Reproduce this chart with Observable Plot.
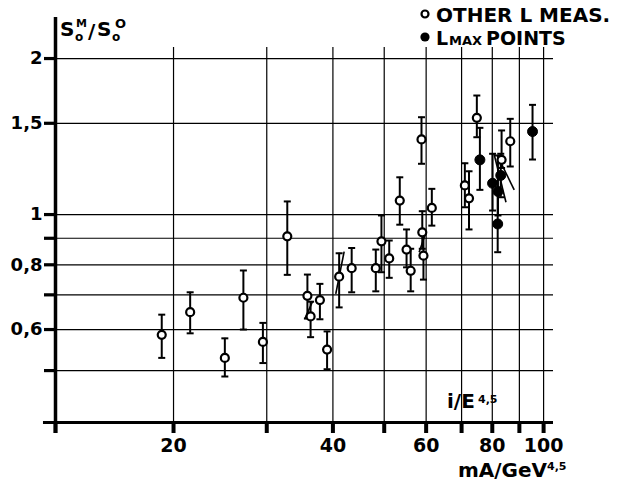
<!DOCTYPE html>
<html>
<head>
<meta charset="utf-8">
<script src="https://cdn.jsdelivr.net/npm/d3@7"></script>
<script src="https://cdn.jsdelivr.net/npm/@observablehq/plot@0.6"></script>
<style>
  html, body { margin: 0; padding: 0; background: #fff; }
  #chart { width: 617px; height: 483px; }
</style>
</head>
<body>
<div id="chart"></div>
<script>
// Open circles: other L measurements (x in mA/GeV^4.5, ratio with error range)
const otherX  = [19.0, 21.5, 25.0, 27.1, 29.5, 32.8, 35.8, 36.3, 37.8, 39.0, 41.1, 43.4, 48.2, 49.4, 51.1, 53.5, 55.1, 56.1, 58.8, 59.0, 59.3, 61.5, 71.0, 72.3, 74.8, 83.3, 86.5];
const otherY  = [0.586, 0.648, 0.529, 0.691, 0.568, 0.908, 0.697, 0.636, 0.684, 0.549, 0.759, 0.788, 0.788, 0.888, 0.823, 1.064, 0.856, 0.779, 1.396, 0.924, 0.833, 1.030, 1.138, 1.075, 1.537, 1.275, 1.385];
const otherLo = [0.529, 0.590, 0.487, 0.600, 0.517, 0.765, 0.630, 0.580, 0.628, 0.503, 0.662, 0.708, 0.711, 0.774, 0.755, 0.956, 0.791, 0.711, 1.253, 0.859, 0.749, 0.952, 1.033, 0.936, 1.410, 1.230, 1.238];
const otherHi = [0.641, 0.708, 0.577, 0.780, 0.618, 1.060, 0.766, 0.679, 0.735, 0.595, 0.842, 0.862, 0.856, 0.996, 0.891, 1.180, 0.936, 0.859, 1.541, 1.015, 0.919, 1.121, 1.256, 1.212, 1.697, 1.453, 1.530];

// Filled circles: L_max points
const lmaxX  = [75.8, 80.1, 82.0, 83.0, 81.9, 95.3];
const lmaxY  = [1.275, 1.149, 1.108, 1.190, 0.959, 1.446];
const lmaxLo = [1.116, 1.018, 0.996, 1.080, 0.846, 1.277];
const lmaxHi = [1.470, 1.310, 1.300, 1.310, 1.104, 1.628];

// Slanted error-bar strokes joining neighbouring measurements
const slantX1 = [35.4, 40.5, 58.2, 80.6, 82.3];
const slantY1 = [0.629, 0.703, 0.846, 1.310, 1.283];
const slantX2 = [36.6, 42.0, 59.8, 84.9, 88.0];
const slantY2 = [0.679, 0.848, 0.918, 1.056, 1.116];

// Axis ticks and labels
const xTicks = [11.97, 20, 30, 40, 50, 60, 70, 80, 90, 100];
const xTickLabels = ["", "20", "", "40", "", "60", "", "80", "", "100"];
const yTicks = [0.5, 0.6, 0.7, 0.8, 0.9, 1, 1.5, 2];
const yTickLabels = ["", "0,6", "", "0,8", "", "1", "1,5", "2"];

const other = otherX.map((x, i) => ({x, y: otherY[i], lo: otherLo[i], hi: otherHi[i]}));
const lmax = lmaxX.map((x, i) => ({x, y: lmaxY[i], lo: lmaxLo[i], hi: lmaxHi[i]}));
const slants = slantX1.map((x1, i) => ({x1, y1: slantY1[i], x2: slantX2[i], y2: slantY2[i]}));
const all = other.concat(lmax);

// horizontal bar symbol for error-bar caps
const capSymbol = {
  draw(context, size) {
    const w = Math.sqrt(size / Math.PI);
    context.moveTo(-w, 0);
    context.lineTo(w, 0);
  }
};

const FONT = "DejaVu Sans";
const xMin = 11.97, xMax = 104.4, yMin = 0.397, yMax = 2.4;

const plot = Plot.plot({
  width: 617,
  height: 483,
  marginLeft: 55,
  marginRight: 64,
  marginTop: 17,
  marginBottom: 61,
  style: {fontFamily: FONT, background: "white", color: "black", overflow: "visible"},
  x: {type: "log", domain: [xMin, xMax], label: null},
  y: {type: "log", domain: [yMin, yMax], label: null},
  marks: [
    // grid
    Plot.ruleY(yTicks, {x1: xMin, x2: xMax, stroke: "black", strokeWidth: 1.2}),
    Plot.ruleX(xTicks.slice(1), {y1: yMin, y2: 2.1, stroke: "black", strokeWidth: 1.2}),
    // axes
    Plot.axisY({
      ticks: yTicks,
      tickFormat: d => yTickLabels[yTicks.indexOf(d)],
      tickSize: 11,
      tickPadding: 2,
      strokeWidth: 3.2,
      fontSize: 18,
      fontWeight: "bold",
      label: null
    }),
    Plot.axisX({
      ticks: xTicks,
      tickFormat: d => xTickLabels[xTicks.indexOf(d)],
      tickSize: 11,
      tickPadding: 5,
      strokeWidth: 4,
      fontSize: 19,
      fontWeight: "bold",
      label: null
    }),
    Plot.ruleX([xMin], {y1: 0.378, y2: yMax, stroke: "black", strokeWidth: 3.5}),
    Plot.ruleY([yMin], {x1: 11.36, x2: xMax, stroke: "black", strokeWidth: 3.2}),
    // error bars
    Plot.link(slants, {x1: "x1", y1: "y1", x2: "x2", y2: "y2", stroke: "black", strokeWidth: 1.6}),
    Plot.ruleX(all, {x: "x", y1: "lo", y2: "hi", stroke: "black", strokeWidth: 2}),
    Plot.dot(all, {x: "x", y: "hi", symbol: capSymbol, r: 3.5, stroke: "black", strokeWidth: 2}),
    Plot.dot(all, {x: "x", y: "lo", symbol: capSymbol, r: 3.5, stroke: "black", strokeWidth: 2}),
    // points
    Plot.dot(other, {x: "x", y: "y", r: 4, fill: "white", stroke: "black", strokeWidth: 2.2}),
    Plot.dot(lmax, {x: "x", y: "y", r: 5, fill: "black", stroke: "black", strokeWidth: 1})
  ]
});

document.getElementById("chart").appendChild(plot);

// Axis titles and legend with sub/superscripts
const svg = d3.select(plot);
const g = svg.append("g")
  .attr("font-family", FONT)
  .attr("font-weight", "bold")
  .attr("text-anchor", "start")
  .attr("fill", "black");

function richText(parts) {
  const t = g.append("text").attr("text-anchor", "start");
  for (const p of parts) {
    t.append("tspan")
      .attr("x", p.x).attr("y", p.y)
      .attr("font-size", p.size)
      .text(p.text);
  }
  return t;
}

// y title: S_o^M / S_o^O
richText([
  {text: "S", x: 60, y: 36, size: 20},
  {text: "o", x: 75, y: 41, size: 12},
  {text: "M", x: 76, y: 27, size: 11},
  {text: "/", x: 88, y: 38, size: 20},
  {text: "S", x: 97, y: 36, size: 20},
  {text: "o", x: 112, y: 41, size: 12},
  {text: "O", x: 115, y: 28, size: 13}
]);

// x titles
richText([
  {text: "i/E", x: 447, y: 408, size: 20},
  {text: "4,5", x: 478, y: 403, size: 11}
]);
richText([
  {text: "mA/GeV", x: 458, y: 477, size: 20},
  {text: "4,5", x: 547, y: 470, size: 11}
]);

// legend
g.append("circle").attr("cx", 425).attr("cy", 14).attr("r", 3.5)
  .attr("fill", "white").attr("stroke", "black").attr("stroke-width", 2.2);
g.append("circle").attr("cx", 425).attr("cy", 37).attr("r", 4.6).attr("fill", "black");
richText([{text: "OTHER L MEAS.", x: 436, y: 22, size: 20}]);
richText([
  {text: "L", x: 436, y: 45, size: 19},
  {text: "MAX", x: 449, y: 45, size: 13},
  {text: "POINTS", x: 486, y: 45, size: 19}
]);
</script>
</body>
</html>
